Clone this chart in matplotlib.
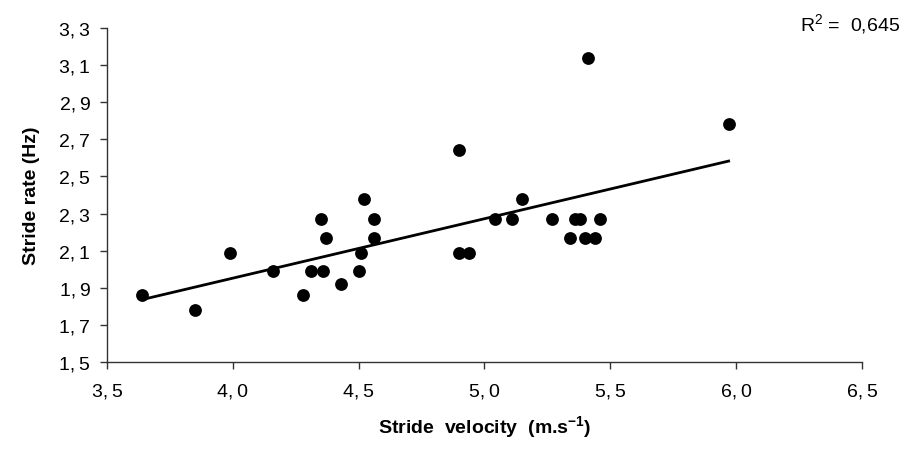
import numpy as np
import matplotlib
matplotlib.use("Agg")
import matplotlib.pyplot as plt
from matplotlib.ticker import FuncFormatter

plt.rcParams['font.family'] = ['Liberation Sans', 'DejaVu Sans']

velocity = [3.64, 3.85, 3.99, 4.16, 4.28, 4.31, 4.36, 4.35, 4.37, 4.43, 4.50,
            4.51, 4.52, 4.56, 4.56, 4.90, 4.90, 4.94, 5.04, 5.11, 5.15, 5.27,
            5.34, 5.36, 5.38, 5.40, 5.41, 5.44, 5.46, 5.97]
rate = [1.86, 1.78, 2.09, 1.99, 1.86, 1.99, 1.99, 2.27, 2.17, 1.92, 1.99,
        2.09, 2.38, 2.27, 2.17, 2.64, 2.09, 2.09, 2.27, 2.27, 2.38, 2.27,
        2.17, 2.27, 2.27, 2.17, 3.14, 2.17, 2.27, 2.78]
x_ticks = [3.5, 4.0, 4.5, 5.0, 5.5, 6.0, 6.5]
y_ticks = [1.5, 1.7, 1.9, 2.1, 2.3, 2.5, 2.7, 2.9, 3.1, 3.3]

fig = plt.figure(figsize=(9.03, 4.52), dpi=100)
ax = fig.add_axes([107/903, 1 - 363/452, (862-107)/903, (363-29)/452])

ax.scatter(velocity, rate, s=85, color='black', zorder=3, linewidths=0)
coef = np.polyfit(velocity, rate, 1)
xs = np.array([min(velocity), max(velocity)])
ax.plot(xs, np.polyval(coef, xs), color='black', lw=2.0, zorder=2)

ax.set_xlim(3.5, 6.5)
ax.set_ylim(1.5, 3.3)
ax.set_xticks(x_ticks)
ax.set_yticks(y_ticks)
def fmtfunc(v, p):
    a, b = f"{v:.1f}".split('.')
    return a + ",\u2009" + b
fmt = FuncFormatter(fmtfunc)
ax.xaxis.set_major_formatter(fmt)
ax.yaxis.set_major_formatter(fmt)
ax.tick_params(axis='both', labelsize=14, length=5, width=1, direction='out', color='#333333')
ax.tick_params(axis='y', pad=7)
ax.tick_params(axis='x', pad=10)
for s in ['top', 'right']:
    ax.spines[s].set_visible(False)
for s in ['left', 'bottom']:
    ax.spines[s].set_color('#333333')
    ax.spines[s].set_linewidth(1)

ax.set_xlabel("Stride  velocity  (m.s$^{\\mathregular{-1}}$)", fontsize=14, fontweight='bold', labelpad=10)
ax.set_ylabel("Stride rate (Hz)", fontsize=14, fontweight='bold', labelpad=14)
fig.text(0.997, 1 - 25/452, "R$^{\\mathregular{2}}$ =  0,645", ha='right', va='center', fontsize=14)

fig.savefig("out.png", dpi=100)
